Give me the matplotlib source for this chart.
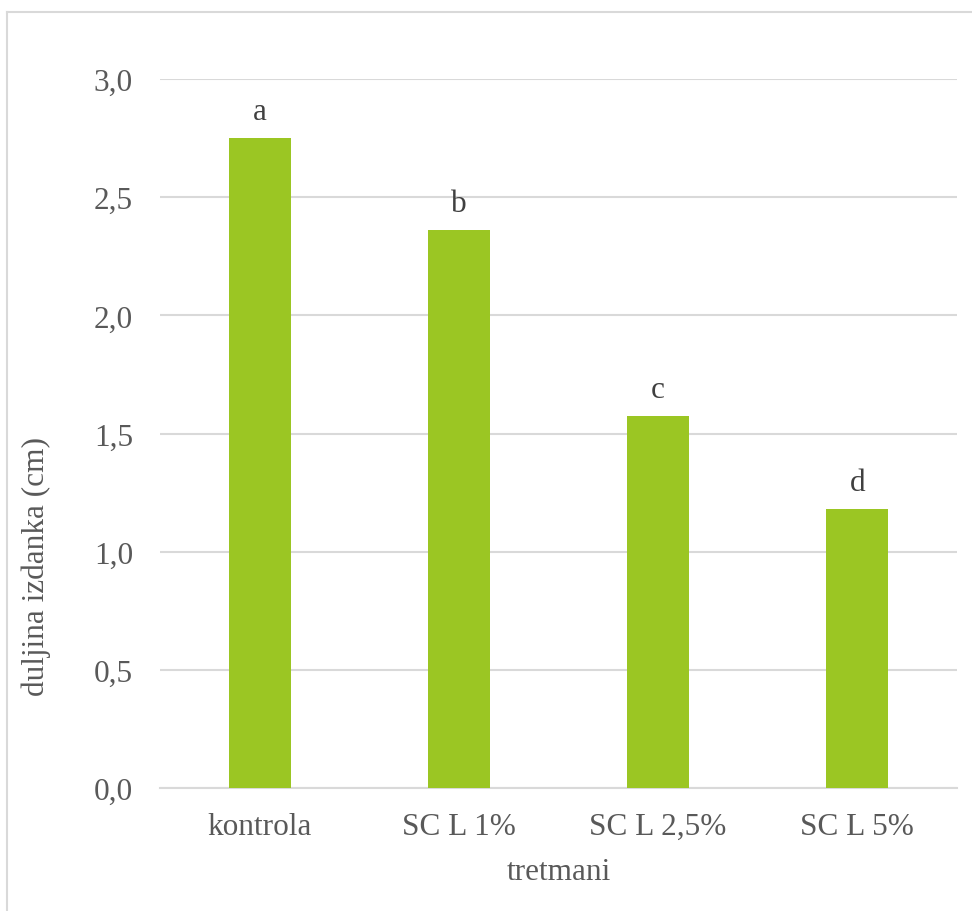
import matplotlib.pyplot as plt
import numpy as np

categories = ['kontrola', 'SC L 1%', 'SC L 2,5%', 'SC L 5%']
values = [2.75, 2.36, 1.575, 1.18]
letters = ['a', 'b', 'c', 'd']
y_ticks = [0.0, 0.5, 1.0, 1.5, 2.0, 2.5, 3.0]
y_tick_labels = ['0,0', '0,5', '1,0', '1,5', '2,0', '2,5', '3,0']

BAR_COLOR = '#9BC623'
TEXT_COLOR = '#595959'
GRID_COLOR = '#D9D9D9'

plt.rcParams['font.family'] = ['Liberation Serif', 'DejaVu Serif']

fig = plt.figure(figsize=(9.72, 9.12), dpi=100)
ax = fig.add_axes([160 / 972, 1 - 789 / 912, 797 / 972, 709 / 912])

x = np.arange(len(categories))
bars = ax.bar(x, values, width=0.31, color=BAR_COLOR, zorder=3)

for bar, letter in zip(bars, letters):
    ax.annotate(letter, (bar.get_x() + bar.get_width() / 2, bar.get_height()),
                xytext=(0, 8.5), textcoords='offset points',
                ha='center', va='bottom', fontsize=22.5, color='#404040')

ax.set_xlim(-0.5, len(categories) - 0.5)
ax.set_ylim(0, 3.0)
ax.set_yticks(y_ticks)
ax.set_yticklabels(y_tick_labels)
ax.set_xticks(x)
ax.set_xticklabels(categories)
ax.tick_params(axis='both', length=0, labelsize=22.5, labelcolor=TEXT_COLOR)
ax.tick_params(axis='y', pad=19.5)
ax.tick_params(axis='x', pad=17)

ax.grid(axis='y', color=GRID_COLOR, linewidth=1.5, zorder=0)
for side in ['top', 'right', 'left']:
    ax.spines[side].set_visible(False)
ax.spines['bottom'].set_color(GRID_COLOR)
ax.spines['bottom'].set_linewidth(1.5)

ax.set_ylabel('duljina izdanka (cm)', fontsize=22.5, color=TEXT_COLOR)
ax.set_xlabel('tretmani', fontsize=22.5, color=TEXT_COLOR)
ax.yaxis.set_label_coords(-0.137, 0.3145)
ax.xaxis.set_label_coords(0.5, -0.097)

# light frame around the chart area (left and top edges visible)
fig.add_artist(plt.Line2D([7 / 972, 7 / 972], [0, 1 - 13 / 912],
                          transform=fig.transFigure, color=GRID_COLOR, linewidth=1.5))
fig.add_artist(plt.Line2D([7 / 972, 1], [1 - 13 / 912, 1 - 13 / 912],
                          transform=fig.transFigure, color=GRID_COLOR, linewidth=1.5))

fig.savefig('out.png', dpi=100)
